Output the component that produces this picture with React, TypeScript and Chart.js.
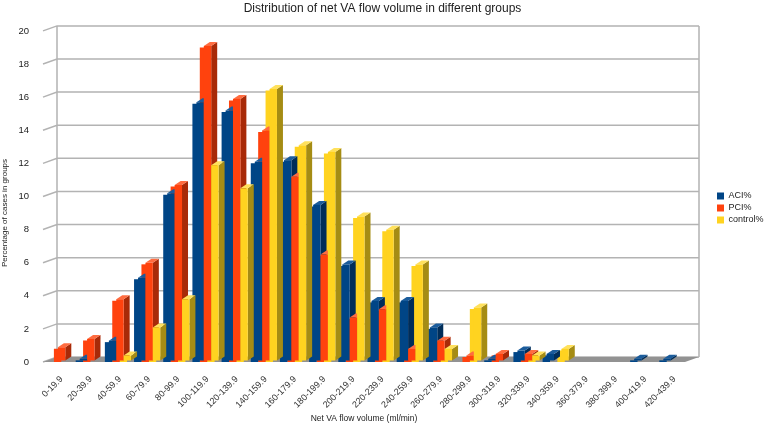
import React, { useEffect, useRef } from 'react';
import { Chart, registerables } from 'chart.js';

Chart.register(...registerables);

const categories = [
  '0-19.9', '20-39.9', '40-59.9', '60-79.9', '80-99.9', '100-119.9',
  '120-139.9', '140-159.9', '160-179.9', '180-199.9', '200-219.9', '220-239.9',
  '240-259.9', '260-279.9', '280-299.9', '300-319.9', '320-339.9', '340-359.9',
  '360-379.9', '380-399.9', '400-419.9', '420-439.9',
];
const aciValues = [0, 0.1, 1.2, 5.0, 10.1, 15.6, 15.1, 12.0, 12.1, 9.4, 5.8, 3.6, 3.6, 2.0, 0, 0.1, 0.6, 0.4, 0, 0, 0.1, 0.1];
const pciValues = [0.8, 1.3, 3.7, 5.9, 10.6, 19.0, 15.8, 13.9, 11.1, 6.4, 2.6, 3.1, 0.7, 1.2, 0.3, 0.4, 0.4, 0, 0, 0, 0, 0];
const controlValues = [0, 0, 0.3, 2.0, 3.7, 11.8, 10.4, 16.4, 13.0, 12.6, 8.7, 7.9, 5.8, 0.7, 3.2, 0, 0.3, 0.7, 0, 0, 0, 0];
const seriesNames = ['ACI%', 'PCI%', 'control%'];
const yTitle = 'Percentage of cases in groups';

const FONT = "'Liberation Sans', Arial, sans-serif";
const shades = [
  { front: '#004586', side: '#002d59', top: '#1b5c9c' },
  { front: '#ff420e', side: '#a82a08', top: '#ff6c40' },
  { front: '#ffd320', side: '#a58c14', top: '#ffe15c' },
];
// back wall offset, bar depth and bar shift into the room
const WALL_DX = 14;
const WALL_DY = 5;
const BAR_DX = 6;
const BAR_DY = 4;
const BAR_SHIFT_X = 4;
const BAR_SHIFT_Y = -1.5;

const room3d = {
  id: 'room3d',
  beforeDatasetsDraw(chart: any) {
    const { ctx, chartArea } = chart;
    const { left, right, top, bottom } = chartArea;
    const y = chart.scales.y;
    ctx.save();
    ctx.strokeStyle = '#b3b3b3';
    ctx.lineWidth = 1.5;
    ctx.beginPath();
    y.ticks.forEach((t: any) => {
      const py = y.getPixelForValue(t.value);
      ctx.moveTo(left, py);
      ctx.lineTo(left + WALL_DX, py - WALL_DY);
      ctx.lineTo(right + WALL_DX, py - WALL_DY);
    });
    ctx.moveTo(left + WALL_DX, top - WALL_DY);
    ctx.lineTo(left + WALL_DX, bottom - WALL_DY);
    ctx.moveTo(right + WALL_DX, top - WALL_DY);
    ctx.lineTo(right + WALL_DX, bottom - WALL_DY);
    ctx.stroke();
    // floor
    ctx.fillStyle = '#929292';
    ctx.beginPath();
    ctx.moveTo(left, bottom);
    ctx.lineTo(right, bottom);
    ctx.lineTo(right + WALL_DX, bottom - WALL_DY);
    ctx.lineTo(left + WALL_DX, bottom - WALL_DY);
    ctx.closePath();
    ctx.fill();
    ctx.restore();
  },
};

const bars3d = {
  id: 'bars3d',
  afterDatasetsDraw(chart: any) {
    const ctx = chart.ctx;
    ctx.save();
    chart.data.datasets.forEach((ds: any, di: number) => {
      const meta = chart.getDatasetMeta(di);
      if (meta.hidden) return;
      const c = shades[di];
      meta.data.forEach((el: any, i: number) => {
        if (!ds.data[i]) return;
        const p = el.getProps(['x', 'y', 'base', 'width'], true);
        const l = p.x - p.width / 2 + BAR_SHIFT_X;
        const r = p.x + p.width / 2 + BAR_SHIFT_X;
        const y = p.y + BAR_SHIFT_Y;
        const base = p.base + BAR_SHIFT_Y;
        ctx.fillStyle = c.side;
        ctx.beginPath();
        ctx.moveTo(r, y);
        ctx.lineTo(r + BAR_DX, y - BAR_DY);
        ctx.lineTo(r + BAR_DX, base - BAR_DY);
        ctx.lineTo(r, base);
        ctx.closePath();
        ctx.fill();
        ctx.fillStyle = c.top;
        ctx.beginPath();
        ctx.moveTo(l, y);
        ctx.lineTo(l + BAR_DX, y - BAR_DY);
        ctx.lineTo(r + BAR_DX, y - BAR_DY);
        ctx.lineTo(r, y);
        ctx.closePath();
        ctx.fill();
        ctx.fillStyle = c.front;
        ctx.fillRect(l, y, p.width, base - y);
      });
    });
    ctx.restore();
  },
};

// y title centred on the whole canvas height, like the original
const yTitlePlugin = {
  id: 'yTitle',
  afterDraw(chart: any) {
    const { ctx, height } = chart;
    ctx.save();
    ctx.translate(5, height / 2);
    ctx.rotate(-Math.PI / 2);
    ctx.fillStyle = '#222';
    ctx.font = `8px ${FONT}`;
    ctx.textAlign = 'center';
    ctx.textBaseline = 'middle';
    ctx.fillText(yTitle, 0, 0);
    ctx.restore();
  },
};

// fixed slot for the legend on the right
const legendSlot = {
  id: 'legendSlot',
  beforeLayout(chart: any) {
    const lg = chart.legend;
    if (lg && !lg.__slot) {
      const fit = lg.fit.bind(lg);
      lg.fit = () => {
        fit();
        lg.width = 80;
      };
      lg.__slot = true;
    }
  },
  afterLayout(chart: any) {
    const lg = chart.legend;
    if (lg) {
      lg.left = chart.chartArea.right + 29;
      lg.top = lg.top - 5;
      lg.bottom = lg.bottom - 5;
    }
  },
};

export default function App() {
  const canvasRef = useRef<HTMLCanvasElement>(null);

  useEffect(() => {
    document.body.style.margin = '0';
    const chart = new Chart(canvasRef.current!, {
      type: 'bar',
      data: {
        labels: categories,
        datasets: [aciValues, pciValues, controlValues].map((vals, i) => ({
          label: seriesNames[i],
          data: vals,
          backgroundColor: shades[i].front,
          borderWidth: 0,
          barPercentage: 1.0,
          categoryPercentage: 0.76,
        })),
      },
      options: {
        animation: false,
        responsive: true,
        maintainAspectRatio: false,
        layout: { padding: 0 },
        plugins: {
          title: {
            display: true,
            text: 'Distribution of net VA flow volume in different groups',
            color: '#222',
            font: { family: FONT, size: 12, weight: 'normal' },
            padding: { top: 1, bottom: 15.5 },
          },
          legend: {
            position: 'right',
            labels: {
              boxWidth: 7,
              boxHeight: 7,
              padding: 3,
              color: '#222',
              font: { family: FONT, size: 9 },
            },
          },
          tooltip: { enabled: false },
        },
        scales: {
          x: {
            grid: { display: false },
            border: { display: false },
            ticks: {
              autoSkip: false,
              minRotation: 45,
              maxRotation: 45,
              padding: 4,
              labelOffset: 4,
              color: '#333',
              font: { family: FONT, size: 9 },
            },
            title: {
              display: true,
              text: 'Net VA flow volume (ml/min)',
              color: '#222',
              font: { family: FONT, size: 8.5 },
              padding: { top: 0, bottom: 2 },
            },
            afterFit: (scale: any) => {
              scale.height = 64;
            },
          },
          y: {
            min: 0,
            max: 20,
            grid: { display: false },
            border: { display: false },
            ticks: {
              stepSize: 2,
              padding: 6,
              color: '#222',
              font: { family: FONT, size: 9.5 },
            },
            afterFit: (scale: any) => {
              scale.width = 43;
            },
          },
        },
      },
      plugins: [room3d, bars3d, yTitlePlugin, legendSlot],
    });
    return () => chart.destroy();
  }, []);

  return (
    <div style={{ position: 'relative', width: 765, height: 426 }}>
      <canvas ref={canvasRef} />
    </div>
  );
}
